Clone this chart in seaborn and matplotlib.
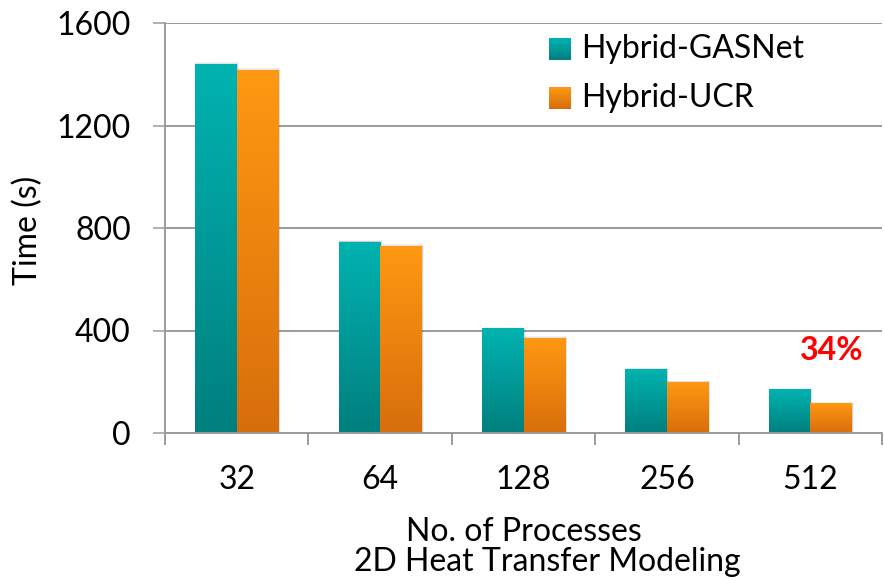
import numpy as np
import pandas as pd
import matplotlib
matplotlib.use("Agg")
import matplotlib.pyplot as plt
from matplotlib.colors import LinearSegmentedColormap
from matplotlib.patches import Rectangle
import seaborn as sns

# Run times (s) for the 2D heat transfer model
processes = ["32", "64", "128", "256", "512"]
gasnet_times = [1439, 745, 406, 247, 168]
ucr_times = [1416, 729, 370, 196, 114]
series_names = ["Hybrid-GASNet", "Hybrid-UCR"]
y_ticks = [0, 400, 800, 1200, 1600]
improvement_label = "34%"

df = pd.DataFrame({
    "Processes": processes * 2,
    "Time": gasnet_times + ucr_times,
    "Implementation": [series_names[0]] * len(processes) + [series_names[1]] * len(processes),
})

sns.set_theme(style="white")
plt.rcParams["font.family"] = ["Lato", "DejaVu Sans"]

W, H = 884, 581
fig = plt.figure(figsize=(W / 100, H / 100), dpi=100)
ax = fig.add_axes([165 / W, 1 - 433 / H, (882 - 165) / W, (433 - 23) / H])

top_colors = ["#00b3b0", "#ff9812"]
bot_colors = ["#007f7e", "#d76e0c"]

sns.barplot(data=df, x="Processes", y="Time", hue="Implementation",
            order=processes, hue_order=series_names,
            palette=top_colors, width=0.58, ax=ax, legend=False,
            edgecolor="none", linewidth=0)

# Replace flat fills with vertical gradients and a soft drop shadow
grad = np.linspace(0, 1, 256).reshape(-1, 1)
patches = list(ax.patches)
for i, p in enumerate(patches):
    s = i // len(processes)
    x0, y0 = p.get_x(), p.get_y()
    w, h = p.get_width(), p.get_height()
    cmap = LinearSegmentedColormap.from_list(f"g{s}", [bot_colors[s], top_colors[s]])
    for k, a in zip([3, 2, 1], [0.05, 0.06, 0.08]):
        dx = 0.004 * k
        ax.add_patch(Rectangle((x0 + 0.002, y0), w + dx, h + 2.5 * k,
                               facecolor="black", alpha=a, edgecolor="none", zorder=1.5))
    p.set_facecolor("none")
    ax.imshow(grad, extent=[x0, x0 + w, y0, y0 + h], origin="lower",
              cmap=cmap, aspect="auto", zorder=2, interpolation="bilinear")
ax.set_xlim(-0.5, len(processes) - 0.5)
ax.set_ylim(0, 1600)

grid_gray = "#9b9b9b"
ax.set_yticks(y_ticks)
ax.yaxis.grid(True, color=grid_gray, linewidth=1.4)
ax.set_axisbelow(True)
for side in ["top", "right"]:
    ax.spines[side].set_visible(False)
for side in ["left", "bottom"]:
    ax.spines[side].set_color(grid_gray)
    ax.spines[side].set_linewidth(1.4)
    ax.spines[side].set_zorder(3)

ax.tick_params(axis="y", which="major", direction="out", length=8.6, width=1.1,
               color=grid_gray, pad=16, labelsize=23, labelcolor="black", left=True)
ax.set_xticks(range(len(processes)))
ax.set_xticklabels(processes)
ax.set_xticks(np.arange(-0.5, len(processes)), minor=True)
ax.tick_params(axis="x", which="major", length=0, pad=23, labelsize=23, labelcolor="black")
ax.tick_params(axis="x", which="minor", direction="out", length=8.6, width=1.4,
               color=grid_gray, bottom=True)
ax.set_xlabel("")
ax.set_ylabel("")

fig.text(28 / W, 1 - 230 / H, "Time (s)", rotation=90, ha="center", va="center",
         fontsize=23, color="black")
fig.text(524 / W, 1 - 532 / H, "No. of Processes", ha="center", va="center",
         fontsize=23, color="black")
fig.text(547 / W, 1 - 562 / H, "2D Heat Transfer Modeling", ha="center", va="center",
         fontsize=23, color="black")

# Legend with gradient swatches
for j, name in enumerate(series_names):
    cy = 49 + j * 49
    lax = fig.add_axes([549 / W, 1 - (cy + 11) / H, 22 / W, 22 / H])
    cmap = LinearSegmentedColormap.from_list(f"l{j}", [bot_colors[j], top_colors[j]])
    lax.imshow(grad, cmap=cmap, aspect="auto", origin="lower", extent=[0, 1, 0, 1])
    lax.set_axis_off()
    fig.text(581 / W, 1 - cy / H, name, ha="left", va="center", fontsize=23, color="black")

fig.text(832 / W, 1 - 350 / H, improvement_label, ha="center", va="center",
         fontsize=23, fontweight="bold", color="#ff0000")

fig.savefig("out.png", dpi=100)
